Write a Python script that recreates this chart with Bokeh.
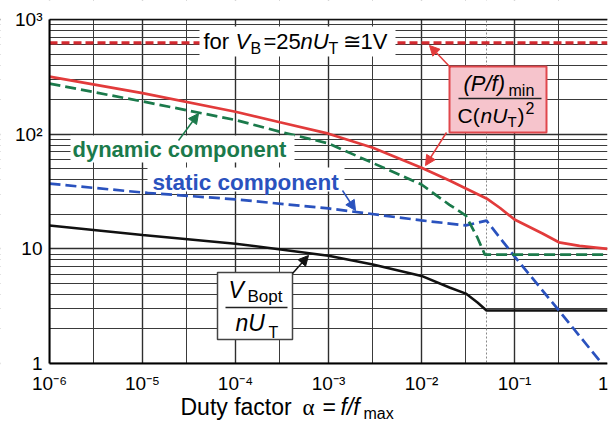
from bokeh.plotting import figure
from bokeh.models import (FixedTicker, CustomJSTickFormatter, Label, BoxAnnotation,
                          Arrow, NormalHead, Span, Range1d)
from bokeh.embed import file_html
from bokeh.resources import INLINE

# ---------------- data ----------------
alpha_pf = [1e-6, 1e-5, 1e-4, 3e-4, 1e-3, 3e-3, 1e-2, 2e-2, 3e-2, 5e-2, 7e-2, 0.1, 0.2, 0.3, 0.5, 1.0]
pf_min = [318, 228, 157, 127, 101, 76, 51, 39.4, 33.6, 27.5, 22.7, 18, 13.6, 11.4, 10.6, 10.0]

alpha_dyn = [1e-6, 1e-5, 1e-4, 3e-4, 1e-3, 3e-3, 1e-2, 2e-2, 3e-2, 4e-2, 0.048, 1.0]
dynamic = [276, 193, 133, 105, 83, 56, 36.4, 24.2, 19.5, 12.5, 8.9, 8.9]

alpha_stat = [1e-6, 1e-5, 1e-4, 1e-3, 1e-2, 3e-2, 5e-2, 0.1, 0.3, 0.87]
static = [37, 31, 27, 22.5, 17.7, 16.0, 17.6, 8.6, 2.9, 1.0]

alpha_vb = [1e-6, 1e-5, 1e-4, 1e-3, 3e-3, 1e-2, 2e-2, 3e-2, 4e-2, 5e-2, 1.0]
vb_opt = [16.0, 13.2, 11.1, 8.7, 7.3, 5.8, 4.6, 4.07, 3.4, 2.9, 2.9]

alpha_ref = [1e-6, 1.0]
pf_ref = [625, 625]          # (25)^2 for V_B = 25 n U_T
alpha_knee = 0.05

x_ticks = [1e-6, 1e-5, 1e-4, 1e-3, 1e-2, 1e-1, 1.0]
x_tick_labels = ["10\u207b\u2076", "10\u207b\u2075", "10\u207b\u2074", "10\u207b\u00b3",
                 "10\u207b\u00b2", "10\u207b\u00b9", "1"]
x_minor = [3e-6, 3e-5, 3e-4, 3e-3, 3e-2, 3e-1]
y_ticks = [1, 10, 100, 1000]
y_tick_labels = ["1", "10", "10\u00b2", "10\u00b3"]
y_minor = [m * 10 ** e for e in range(3) for m in range(2, 10)]

# ---------------- layout helpers (page pixel -> data) ----------------
FL, FR, FT, FB = 49.0, 607.0, 19.0, 363.0
BASE_FIX = 0.28   # alphabetic baseline correction, in em


def dx(px):
    return 10 ** ((px - FL) / (FR - FL) * 6.0 - 6.0)


def dy(py):
    return 10 ** ((FB - py) / (FB - FT) * 3.0)


RED = "#e23b3b"
RED_D = "#d42a30"
GREEN = "#1b7a4b"
BLUE = "#2a52be"
FONT = "Liberation Sans"

# the frame fills the canvas; both axes sit at fixed data locations
p = figure(width=608, height=422, x_axis_type="log", y_axis_type="log",
           x_range=Range1d(dx(0), 1.0), y_range=Range1d(dy(422), dy(0)),
           output_backend="svg", toolbar_location=None, title=None,
           min_border_left=0, min_border_right=1, min_border_top=0, min_border_bottom=0,
           background_fill_color="white", border_fill_color="white")

p.xaxis.fixed_location = 1
p.yaxis.fixed_location = 1e-6
p.xaxis.bounds = (1e-6, 1.0)
p.yaxis.bounds = (1, 1000)
p.xaxis.ticker = FixedTicker(ticks=x_ticks, minor_ticks=x_minor)
p.yaxis.ticker = FixedTicker(ticks=y_ticks, minor_ticks=y_minor)
p.xaxis.formatter = CustomJSTickFormatter(args=dict(labels=x_tick_labels),
                                          code="return labels[Math.round(Math.log10(tick)) + 6];")
p.yaxis.formatter = CustomJSTickFormatter(args=dict(labels=y_tick_labels),
                                          code="return labels[Math.round(Math.log10(tick))];")
for ax in (p.xaxis, p.yaxis):
    ax.major_tick_out = 0
    ax.major_tick_in = 0
    ax.minor_tick_out = 0
    ax.minor_tick_in = 0
    ax.axis_line_color = "black"
    ax.axis_line_width = 2
    ax.major_label_text_font = FONT
    ax.major_label_text_font_size = "19px"
    ax.major_label_text_color = "black"
p.xaxis.major_label_standoff = 9
p.yaxis.major_label_standoff = 7

for g in (p.xgrid, p.ygrid):
    g.grid_line_color = "#2e2e2e"
    g.grid_line_width = 1.4
    g.minor_grid_line_color = "#3a3a3a"
    g.minor_grid_line_width = 1
p.outline_line_color = None

# knee marker (under the curves)
p.add_layout(Span(location=alpha_knee, dimension="height", line_color="#888888",
                  line_dash="2 2", line_width=1, level="underlay"))
# blank strips outside the plotting area (tick labels and titles live there)
p.add_layout(BoxAnnotation(top=1, fill_color="white", fill_alpha=1.0, line_alpha=0,
                           level="underlay"))
p.add_layout(BoxAnnotation(right=1e-6, fill_color="white", fill_alpha=1.0, line_alpha=0,
                           level="underlay"))
p.add_layout(BoxAnnotation(bottom=1000, fill_color="white", fill_alpha=1.0, line_alpha=0,
                           level="underlay"))
# top edge of the plotting area
p.add_layout(Span(location=1000, dimension="width", line_color="#111111", line_width=1.6,
                  level="underlay"))
p.add_layout(BoxAnnotation(right=1e-6, fill_color="white", fill_alpha=1.0, line_alpha=0,
                           level="underlay"))

# curves
p.line(alpha_ref, pf_ref, line_color=RED_D, line_width=3.2, line_dash="8 4")
p.line(alpha_vb, vb_opt, line_color="#111111", line_width=2.5)
p.line(alpha_stat, static, line_color=BLUE, line_width=2.7, line_dash="11 5")
p.line(alpha_dyn, dynamic, line_color=GREEN, line_width=2.7, line_dash="11 5")
p.line(alpha_pf, pf_min, line_color=RED, line_width=2.7)


def box(l, r, t, b, fill="white", line=None, lw=1.0):
    p.add_layout(BoxAnnotation(left=dx(l), right=dx(r), top=dy(t), bottom=dy(b),
                               fill_color=fill, fill_alpha=1.0,
                               line_color=line, line_width=lw, line_alpha=1.0 if line else 0))


def txt(s, px, py, size=22, style="normal", color="black", font=FONT):
    p.add_layout(Label(x=dx(px), y=dy(py - BASE_FIX * size), text=s, text_font=font,
                       text_font_size=f"{size}px", text_font_style=style,
                       text_color=color, text_baseline="alphabetic", text_align="left"))


def arrow(x0, y0, x1, y1, color, head=True, lw=1.5):
    end = NormalHead(size=10, fill_color=color, line_color=color) if head else None
    p.add_layout(Arrow(end=end, x_start=dx(x0), y_start=dy(y0), x_end=dx(x1), y_end=dy(y1),
                       line_color=color, line_width=lw))


# white backgrounds behind labels
box(199, 395, 26, 56)
box(70, 294, 135, 162)
box(147, 344, 167, 191)

# top label: for V_B = 25 n U_T ≅ 1V
txt("for", 203, 47)
txt("V", 235, 47, style="italic")
txt("B", 250, 52, size=16)
txt("=25", 263, 47)
txt("nU", 300, 47, style="italic")
txt("T", 328, 52, size=16)
txt("\u2245", 342, 47)
txt("1V", 360, 47)

# component labels
txt("dynamic component", 72, 155, size=22, style="bold", color=GREEN)
txt("static component", 152, 188, size=22.5, style="bold", color=BLUE)

# pink box (P/f)min / C(nU_T)^2
box(449, 546, 66, 132, fill="#f6c4cc", line="#e0474c", lw=2)
txt("(P/f)", 463, 89, size=22, style="italic")
txt("min", 508, 94, size=16)
arrow(458, 98, 541, 98, "#222222", head=False, lw=1.5)
txt("C(", 457, 121, size=21)
txt("nU", 480, 121, size=21, style="italic")
txt("T", 507, 125, size=15)
txt(")", 517, 121, size=21)
txt("2", 525, 112, size=16)

# V_Bopt / n U_T box
box(217, 292, 272, 339, fill="white", line="#444444", lw=1.5)
txt("V", 228, 296, size=23, style="italic")
txt("Bopt", 247, 301, size=17)
arrow(225, 307, 287, 307, "#222222", head=False, lw=1.5)
txt("nU", 235, 329, size=23, style="italic")
txt("T", 268, 336, size=16)

# arrows
arrow(450, 67, 429, 45, RED)
arrow(446, 132, 425, 165, RED)
arrow(178, 140, 198, 113, GREEN)
arrow(342, 190, 355, 210, BLUE)
arrow(292, 273, 308, 255, "#111111")

# x axis title: Duty factor α = f/f_max
txt("Duty factor", 180, 413, size=23)
txt("\u03b1", 302, 413, size=23, font="Liberation Serif")
txt("=", 322, 413, size=23)
txt("f/f", 340, 413, size=23, style="italic")
txt("max", 363, 417, size=16)

open("out.html", "w").write(file_html(p, INLINE))
